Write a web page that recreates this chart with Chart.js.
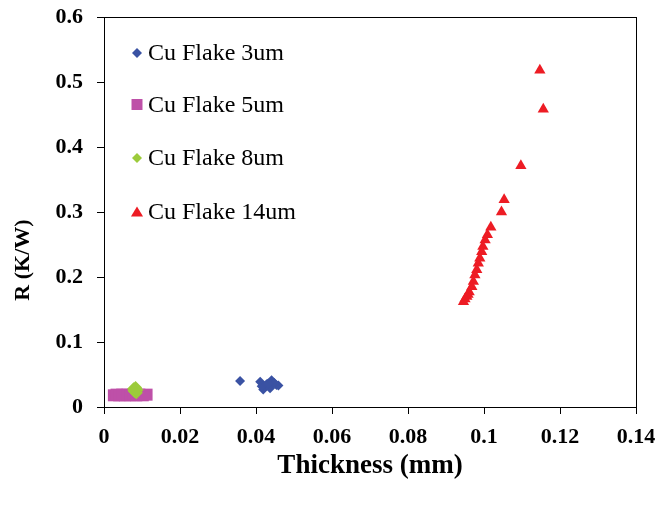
<!DOCTYPE html>
<html>
<head>
<meta charset="utf-8">
<script src="https://cdn.jsdelivr.net/npm/chart.js@4/dist/chart.umd.min.js"></script>
<style>
  body { margin: 0; background: #fff; }
  #wrap { width: 659px; height: 506px; }
</style>
</head>
<body>
<div id="wrap"><canvas id="myChart"></canvas></div>
<script>
/***** data *****/
const seriesNames = ['Cu Flake 3um', 'Cu Flake 5um', 'Cu Flake 8um', 'Cu Flake 14um'];

const x3um = [0.0358, 0.0411, 0.0419, 0.0415, 0.0428, 0.0437, 0.0441, 0.0443, 0.0454, 0.0459, 0.0448, 0.0432];
const y3um = [0.040, 0.039, 0.027, 0.032, 0.035, 0.029, 0.041, 0.038, 0.034, 0.033, 0.037, 0.036];

const x5um = [0.0026, 0.0033, 0.0040, 0.0048, 0.0055, 0.0062, 0.0070, 0.0078, 0.0085, 0.0093, 0.0102, 0.0112];
const y5um = [0.018, 0.019, 0.018, 0.019, 0.018, 0.019, 0.018, 0.019, 0.018, 0.019, 0.018, 0.019];

const x8um = [0.0078, 0.0083, 0.0087, 0.0081, 0.0085, 0.0079];
const y8um = [0.028, 0.030, 0.026, 0.024, 0.022, 0.025];

const x14um = [0.1147, 0.1156, 0.1097, 0.1053, 0.1046, 0.1018, 0.1009, 0.1003, 0.0997, 0.0994, 0.0989,
               0.0985, 0.0981, 0.0976, 0.0972, 0.0968, 0.0961, 0.0958, 0.0955, 0.0950, 0.0946];
const y14um = [0.518, 0.458, 0.371, 0.319, 0.300, 0.2765, 0.265, 0.257, 0.247, 0.239, 0.229,
               0.221, 0.211, 0.203, 0.193, 0.185, 0.177, 0.173, 0.170, 0.166, 0.162];

const xTickLabels = ['0', '0.02', '0.04', '0.06', '0.08', '0.1', '0.12', '0.14'];
const yTickLabels = ['0', '0.1', '0.2', '0.3', '0.4', '0.5', '0.6'];

const xTitle = 'Thickness (mm)';
const yTitle = 'R (K/W)';

const colors = ['#3A52A3', '#BE50A8', '#9CCB3B', '#ED1C24'];
const styles = ['rectRot', 'rect', 'rectRot', 'triangle'];
const radii = [5, 8.5, 6.5, 6.5];
const drawOrder = [0, 2, 1, 0]; // green sits on top of the pink squares

function toPoints(xs, ys) {
  return xs.map((x, i) => ({x: x, y: ys[i]}));
}

const allSeries = [[x3um, y3um], [x5um, y5um], [x8um, y8um], [x14um, y14um]];

/***** legend, frame and y title drawn inside the plot *****/
const serif = '"Liberation Serif", "Times New Roman", serif';

function legendMarker(ctx, style, x, y, r) {
  ctx.beginPath();
  if (style === 'rectRot') {
    ctx.moveTo(x, y - r); ctx.lineTo(x + r, y); ctx.lineTo(x, y + r); ctx.lineTo(x - r, y);
  } else if (style === 'rect') {
    ctx.rect(x - r, y - r, 2 * r, 2 * r);
  } else {
    ctx.moveTo(x, y - r); ctx.lineTo(x + r * 1.1, y + r * 0.8); ctx.lineTo(x - r * 1.1, y + r * 0.8);
  }
  ctx.closePath();
  ctx.fill();
}

const extras = {
  id: 'extras',
  afterDraw(chart) {
    const ctx = chart.ctx;
    const a = chart.chartArea;
    ctx.save();
    // frame
    ctx.strokeStyle = '#000';
    ctx.lineWidth = 1;
    ctx.strokeRect(a.left + 0.5, a.top + 0.5, a.right - a.left, a.bottom - a.top);
    // legend
    const legendY = [53, 104.5, 158, 212];
    const legendR = [5, 5.5, 5, 5.5];
    ctx.font = '24px ' + serif;
    ctx.textBaseline = 'middle';
    ctx.textAlign = 'left';
    seriesNames.forEach((name, i) => {
      ctx.fillStyle = colors[i];
      legendMarker(ctx, styles[i], 137, legendY[i], legendR[i]);
      ctx.fillStyle = '#000';
      ctx.fillText(name, 148, legendY[i] + 1);
    });
    // y title, sits lower than centre as in the original
    ctx.translate(23, 260);
    ctx.rotate(-Math.PI / 2);
    ctx.textAlign = 'center';
    ctx.font = 'bold 22px ' + serif;
    ctx.fillText(yTitle, 0, 0);
    ctx.restore();
  }
};

const data = {
  datasets: allSeries.map((s, i) => ({
    label: seriesNames[i],
    data: toPoints(s[0], s[1]),
    order: drawOrder[i],
    backgroundColor: colors[i],
    borderColor: colors[i],
    borderWidth: 0,
    pointStyle: styles[i],
    pointRadius: radii[i],
    pointHoverRadius: radii[i]
  }))
};

const config = {
  type: 'scatter',
  data: data,
  plugins: [extras],
  options: {
    responsive: true,
    maintainAspectRatio: false,
    animation: false,
    layout: { padding: { top: 17, right: 23, left: 0, bottom: 0 } },
    plugins: {
      legend: { display: false },
      tooltip: { enabled: false }
    },
    scales: {
      x: {
        type: 'linear',
        min: 0,
        max: 0.14,
        afterFit: scale => {
          scale.height = 99;
          scale.paddingLeft = 0;
          scale.paddingRight = 0;
        },
        ticks: {
          stepSize: 0.02,
          color: '#000',
          padding: 10,
          font: { family: serif, size: 22, weight: 'bold' },
          callback: (v, i) => xTickLabels[i]
        },
        grid: { drawOnChartArea: false, color: '#000', tickLength: 7 },
        border: { color: '#000', width: 1 },
        title: {
          display: true,
          text: xTitle,
          color: '#000',
          font: { family: serif, size: 27, weight: 'bold' },
          padding: { top: 0, bottom: 24 }
        }
      },
      y: {
        type: 'linear',
        min: 0,
        max: 0.6,
        afterFit: scale => {
          scale.width = 104;
          scale.paddingTop = 0;
          scale.paddingBottom = 0;
        },
        ticks: {
          stepSize: 0.1,
          color: '#000',
          padding: 14,
          font: { family: serif, size: 22, weight: 'bold' },
          callback: (v, i) => yTickLabels[i]
        },
        grid: { drawOnChartArea: false, color: '#000', tickLength: 7 },
        border: { color: '#000', width: 1 }
      }
    }
  }
};

const myChart = new Chart(document.getElementById('myChart'), config);
</script>
</body>
</html>
